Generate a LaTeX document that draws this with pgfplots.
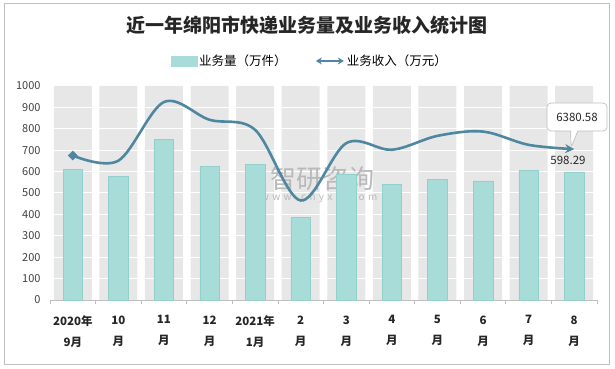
\documentclass[border=0pt]{standalone}
\usepackage{fontspec}
\setmainfont{Noto Sans CJK SC}
\usepackage{pgfplots}
\pgfplotsset{compat=1.18}
\usetikzlibrary{arrows.meta,shapes.callouts}
\definecolor{barc}{HTML}{A8DCD8}
\definecolor{barb}{HTML}{93D0CB}
\definecolor{colg}{HTML}{E7E7E7}
\definecolor{linec}{HTML}{4F87A0}
\definecolor{bordc}{HTML}{BFBFBF}
\definecolor{txt}{HTML}{404040}
\begin{document}
\begin{tikzpicture}[x=1pt,y=1pt]
\path[use as bounding box] (0,0) rectangle (615,369);
\draw[draw=bordc, line width=0.8pt] (4,5) rectangle (609,366);
\node[font=\bfseries\fontsize{19}{19}\selectfont, text=black!85] at (307,344) {近一年绵阳市快递业务量及业务收入统计图};
\begin{axis}[
  at={(50pt,69pt)}, anchor=south west,
  scale only axis, width=547pt, height=214pt,
  xmin=-0.5, xmax=11.5, ymin=0, ymax=1000,
  ytick={0,100,...,1000},
  xtick={0,...,11},
  xticklabels={{2020年\\9月},{10\\月},{11\\月},{12\\月},{2021年\\1月},{2\\月},{3\\月},{4\\月},{5\\月},{6\\月},{7\\月},{8\\月}},
  xticklabel style={align=center, font=\bfseries\fontsize{11.5}{21}\selectfont, text=black!85, yshift=-12pt},
  yticklabel style={font=\fontsize{11}{11}\selectfont, text=txt, xshift=-6pt, /pgf/number format/1000 sep={}},
  /pgf/number format/assume math mode=true,
  axis x line*=bottom, axis y line*=left,
  y axis line style={draw=none},
  x axis line style={draw=bordc, line width=0.8pt},
  major tick length=0pt,
  extra x ticks={-0.5,0.5,...,11.5},
  extra x tick labels={},
  extra x tick style={major tick length=4pt, tick align=outside, tick style={draw=bordc, line width=0.8pt}},
  legend style={at={(0.475,1.117)}, anchor=center, draw=none, fill=none,
    font=\fontsize{12.5}{12.5}\selectfont, legend columns=2,
    /tikz/every even column/.append style={column sep=26pt}},
  clip=false,
]
\addplot[ybar, bar width=38pt, bar shift=0pt, fill=colg, draw=none, forget plot]
  coordinates {(0,1000) (1,1000) (2,1000) (3,1000) (4,1000) (5,1000) (6,1000) (7,1000) (8,1000) (9,1000) (10,1000) (11,1000)};
\pgfplotsinvokeforeach{100,200,...,900}{
  \draw[white, line width=1pt] (axis cs:-0.5,#1) -- (axis cs:11.5,#1);
}
\node[text=gray!55, font=\fontsize{26}{26}\selectfont, anchor=west] at (axis cs:4.25,565) {智研咨询};
\node[text=gray!55, font=\fontsize{10}{10}\selectfont, anchor=west] at (axis cs:4.05,480) {w\,\,w\,\,w\,\,.\,\,c\,\,h\,\,y\,\,x\,\,x\,\,.\,\,c\,\,o\,\,m};
\fill[linec!40] (axis cs:4.0,530) rectangle (axis cs:4.22,610);
\addplot[ybar, bar width=19.5pt, bar shift=0pt, fill=barc, draw=barb, line width=0.5pt,
  area legend, legend image code/.code={\fill[barc] (0pt,-5pt) rectangle (26pt,5pt);}]
  coordinates {(0,609) (1,579) (2,751) (3,626) (4,632) (5,385) (6,588) (7,542) (8,565) (9,557) (10,607) (11,598.29)};
\addlegendentry{业务量（万件）}
\addplot[smooth, tension=0.55, color=linec, line width=2.6pt, mark=square*, mark indices={1}, mark size=3.2pt,
  mark options={solid, fill=linec, rotate=45, line width=0.5pt},
  -{Stealth[length=9pt,width=9pt]},
  legend image code/.code={\draw[linec, line width=2.2pt, {Stealth[length=6pt,width=7pt]}-{Stealth[length=6pt,width=7pt]}] (0pt,0pt) -- (28pt,0pt);}]
  coordinates {(0,675) (1,651) (2,925) (3,842) (4,795) (5,465) (6,733) (7,702) (8,767) (9,787) (10,725) (11,705)};
\addlegendentry{业务收入（万元）}
\coordinate (tip) at (axis cs:10.93,712);
\end{axis}
\node[font=\fontsize{11.5}{11.5}\selectfont, text=black!85] at (568,209) {598.29};
\node[rectangle callout, draw=bordc, fill=white, rounded corners=4pt, line width=0.7pt,
  minimum width=60pt, minimum height=28pt, callout absolute pointer={(tip)},
  font=\fontsize{11.5}{11.5}\selectfont, text=black!85] at (577,252) {6380.58};
\end{tikzpicture}
\end{document}
